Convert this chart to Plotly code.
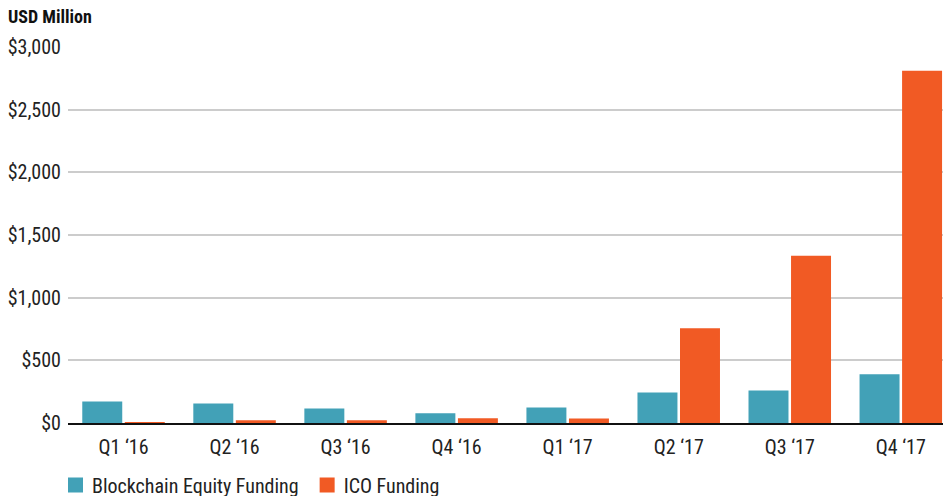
import plotly.graph_objects as go

quarters = ["Q1 \u201816", "Q2 \u201816", "Q3 \u201816", "Q4 \u201816",
            "Q1 \u201817", "Q2 \u201817", "Q3 \u201817", "Q4 \u201817"]
equity_funding = [172, 156, 116, 78, 124, 244, 260, 388]
ico_funding = [5, 22, 22, 38, 36, 756, 1334, 2810]
y_ticks = [0, 500, 1000, 1500, 2000, 2500, 3000]
y_tick_labels = ["$0", "$500", "$1,000", "$1,500", "$2,000", "$2,500", "$3,000"]

FONT = "Roboto Condensed, Roboto, sans-serif"

fig = go.Figure()
fig.add_trace(go.Bar(x=quarters, y=equity_funding, name="Blockchain Equity Funding",
                     marker=dict(color="#42A1B7", line=dict(width=0))))
fig.add_trace(go.Bar(x=quarters, y=ico_funding, name="ICO Funding",
                     marker=dict(color="#F15A24", line=dict(width=0))))

fig.update_layout(
    width=943, height=496,
    margin=dict(l=68, r=0, t=47, b=73, autoexpand=False),
    paper_bgcolor="white", plot_bgcolor="white",
    barmode="group", bargap=0.234, bargroupgap=0.06,
    font=dict(family=FONT, size=20, color="#222222"),
    title=dict(text="<b>USD Million</b>", x=8/943, xref="container", xanchor="left",
               y=1-17/496, yref="container", yanchor="middle",
               font=dict(family=FONT, size=18, color="#111111")),
    legend=dict(orientation="h", x=-16/875, xref="paper", xanchor="left",
                y=1-485/496, yref="container", yanchor="middle",
                font=dict(family=FONT, size=20, color="#222222"),
                traceorder="normal"),
    showlegend=True,
)
fig.update_xaxes(range=[-0.5, 7.38], showline=True, linecolor="#111111", linewidth=1.5,
                 ticks="", showgrid=False, tickfont=dict(size=20), ticklabelstandoff=5)
fig.update_yaxes(range=[0, 3000], tickvals=y_ticks, ticktext=y_tick_labels,
                 showgrid=True, gridcolor="#CCCCCC", gridwidth=1.5, zeroline=False,
                 ticks="", ticklabelstandoff=6, showline=False, tickfont=dict(size=20))

post = """
document.body.style.margin='0';
document.querySelectorAll('.legend .legendpoints path').forEach(function(p){
  p.setAttribute('d','M-4,-7.5H11V7.5H-4Z');
});
"""
fig.write_html("out.html", config={"displayModeBar": False}, post_script=post)
